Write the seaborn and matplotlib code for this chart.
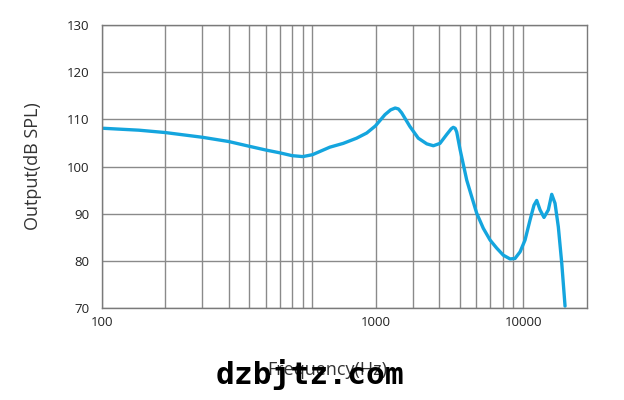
import numpy as np
import pandas as pd
import seaborn as sns
import matplotlib.pyplot as plt
from matplotlib.ticker import FixedLocator, NullFormatter

# Frequency response (Hz, dB SPL)
freq = [102, 150, 200, 300, 400, 500, 600, 700, 800, 900, 1000, 1210, 1400,
        1620, 1810, 1990, 2210, 2350, 2470, 2560, 2650, 2900, 3180, 3490, 3750,
        4030, 4340, 4560, 4660, 4760, 4840, 5020, 5400, 5700, 6020, 6470, 6970,
        7490, 8050, 8670, 9150, 9670, 10210, 10790, 11260, 11600, 12030, 12560,
        13170, 13670, 14170, 14690, 15250, 15810]
spl = [108.1, 107.7, 107.2, 106.2, 105.3, 104.3, 103.5, 102.9, 102.3, 102.1,
       102.5, 104.1, 104.9, 106.0, 107.1, 108.6, 111.0, 112.0, 112.4, 112.2,
       111.4, 108.5, 106.0, 104.8, 104.4, 104.9, 106.8, 108.0, 108.3, 108.1,
       107.3, 103.6, 97.1, 93.6, 90.1, 86.9, 84.4, 82.7, 81.2, 80.4, 80.5,
       81.9, 84.4, 88.7, 91.8, 92.8, 90.8, 89.2, 90.8, 94.1, 92.2, 87.2,
       79.5, 70.4]

# Tick labels as printed on the reference
xtick_pos = [100, 2000, 10000]
xtick_lab = ['100', '1000', '10000']
grid_minor = [200, 300, 400, 500, 600, 700, 800, 900, 1000,
              3000, 4000, 5000, 6000, 7000, 8000, 9000]
yticks = [70, 80, 90, 100, 110, 120, 130]

df = pd.DataFrame({'freq': freq, 'spl': spl})

sns.set_style('white')
plt.rcParams['font.family'] = ['Open Sans', 'DejaVu Sans']

fig = plt.figure(figsize=(6.24, 4), dpi=100)
ax = fig.add_axes([0.163, 0.23, 0.777, 0.7075])

sns.lineplot(data=df, x='freq', y='spl', color='#14a5de', linewidth=2.4, ax=ax)

ax.set_xscale('log')
ax.set_xlim(100, 20000)
ax.set_ylim(70, 130)

ax.xaxis.set_major_locator(FixedLocator(xtick_pos))
ax.set_xticklabels(xtick_lab)
ax.xaxis.set_minor_locator(FixedLocator(grid_minor))
ax.xaxis.set_minor_formatter(NullFormatter())
ax.set_yticks(yticks)

ax.grid(True, which='both', axis='x', color='#8a8a8a', linewidth=1.0)
ax.grid(True, which='major', axis='y', color='#8a8a8a', linewidth=1.0)
ax.set_axisbelow(True)

ax.tick_params(axis='both', which='both', length=0, labelsize=9.5, colors='#222222')
ax.tick_params(axis='x', pad=6)
ax.tick_params(axis='y', pad=9)

for s in ax.spines.values():
    s.set_visible(True)
    s.set_color('#7a7a7a')
    s.set_linewidth(1.0)

ax.set_xlabel('')
ax.set_ylabel('')
fig.text(33 / 624, 1 - 166 / 400, 'Output(dB SPL)', rotation=90, ha='center',
         va='center', fontsize=13, color='#333333')
fig.text(327 / 624, 1 - 370 / 400, 'Frequency(Hz)', ha='center', va='center',
         fontsize=13, color='#333333')

# watermark
fig.text(310 / 624, 1 - 384 / 400, 'dzbjtz.com', ha='center', va='baseline',
         fontsize=22.5, fontweight='bold', family='DejaVu Sans Mono', color='black')

fig.savefig('out.png', dpi=100)
